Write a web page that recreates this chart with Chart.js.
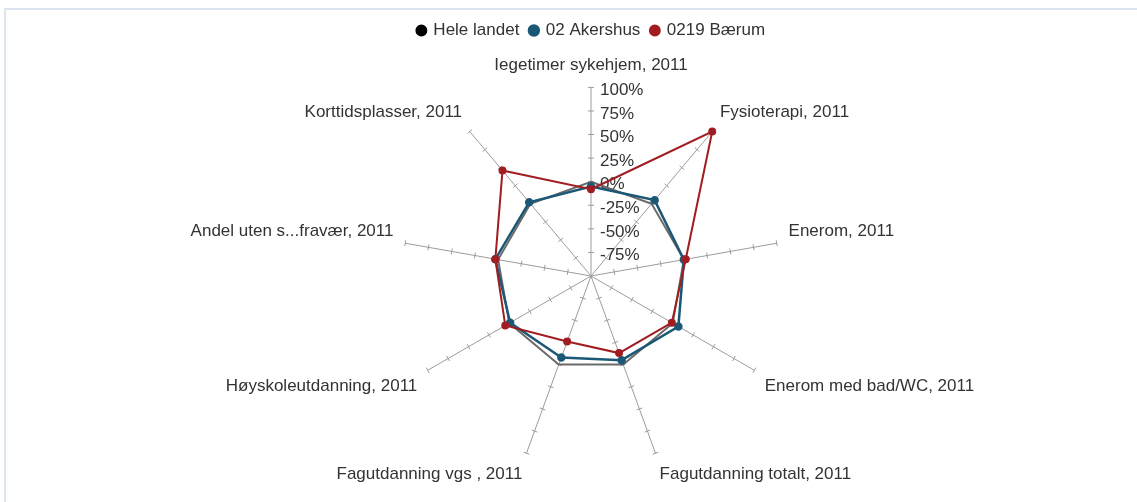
<!DOCTYPE html>
<html>
<head>
<meta charset="utf-8">
<script src="https://cdn.jsdelivr.net/npm/chart.js@4"></script>
<style>
  html, body { margin: 0; padding: 0; background: #fff; }
  .frame { position: absolute; left: 4px; top: 8px; width: 1133px; height: 494px;
           border-top: 2px solid #dce6f1; border-left: 2px solid #dce6f1; box-sizing: border-box; }
  .wrap { position: absolute; left: 0; top: 0; width: 1137px; height: 502px; }
</style>
</head>
<body>
<div class="frame"></div>
<div class="wrap"><canvas id="radar"></canvas></div>
<script>
const categories = [
  'Iegetimer sykehjem, 2011', 'Fysioterapi, 2011', 'Enerom, 2011',
  'Enerom med bad/WC, 2011', 'Fagutdanning totalt, 2011', 'Fagutdanning vgs , 2011',
  'Høyskoleutdanning, 2011', 'Andel uten s...fravær, 2011', 'Korttidsplasser, 2011'
];
const heleLandet = [0, 0, 0, 0, 0, 0, 0, 0, 0];
const akershus = [-5, 5, 0, 7, -5, -8, -1, 3, 2];
const baerum = [-8, 100, 2, -1, -13, -26, 5, 3, 46];
const tickLabels = ['-75%', '-50%', '-25%', '0%', '25%', '50%', '75%', '100%'];

const font = { family: 'Liberation Sans, Arial, sans-serif', size: 17 };

// small cross ticks on every spoke + value labels along the top spoke
const spokeTicks = {
  id: 'spokeTicks',
  beforeDatasetsDraw(chart) {
    const r = chart.scales.r;
    const ctx = chart.ctx;
    const n = categories.length;
    ctx.save();
    ctx.strokeStyle = '#9c9c9c';
    ctx.lineWidth = 1;
    for (let i = 0; i < n; i++) {
      const a = r.getIndexAngle(i) - Math.PI / 2;
      const px = -Math.sin(a), py = Math.cos(a);
      for (let v = -75; v <= 100; v += 25) {
        const p = r.getPointPositionForValue(i, v);
        ctx.beginPath();
        ctx.moveTo(p.x - px * 3, p.y - py * 3);
        ctx.lineTo(p.x + px * 3, p.y + py * 3);
        ctx.stroke();
      }
    }
    ctx.fillStyle = '#333';
    ctx.font = font.size + 'px ' + font.family;
    ctx.textAlign = 'left';
    ctx.textBaseline = 'middle';
    tickLabels.forEach(t => {
      const p = r.getPointPositionForValue(0, parseFloat(t));
      ctx.fillText(t, p.x + 9, p.y + 3);
    });
    ctx.restore();
  }
};

new Chart(document.getElementById('radar'), {
  type: 'radar',
  data: {
    labels: categories,
    datasets: [
      { label: 'Hele landet', data: heleLandet, borderColor: '#6a6a6a', backgroundColor: '#000',
        pointBackgroundColor: '#000', pointBorderColor: '#000', borderWidth: 2, pointRadius: 0, fill: false, order: 3 },
      { label: '02 Akershus', data: akershus, borderColor: '#1b5876', backgroundColor: '#1b5876',
        pointBackgroundColor: '#1b5876', pointBorderColor: '#1b5876', borderWidth: 2.5, pointRadius: 3, fill: false, order: 2 },
      { label: '0219 Bærum', data: baerum, borderColor: '#a11d22', backgroundColor: '#a11d22',
        pointBackgroundColor: '#a11d22', pointBorderColor: '#a11d22', borderWidth: 2, pointRadius: 3, fill: false, order: 1 },
    ],
  },
  options: {
    responsive: true, maintainAspectRatio: false, animation: false,
    layout: { padding: { top: 11, bottom: 10, left: 46 } },
    plugins: {
      legend: {
        position: 'top',
        labels: {
          usePointStyle: true, pointStyle: 'circle', boxWidth: 7, boxHeight: 7,
          font: { ...font }, color: '#333', padding: 11,
          sort: (a, b) => a.datasetIndex - b.datasetIndex,
        },
      },
      tooltip: { enabled: false },
    },
    scales: {
      r: {
        min: -100, max: 100,
        ticks: { stepSize: 25, display: false },
        grid: { display: false },
        angleLines: { display: true, color: '#9c9c9c', lineWidth: 1 },
        pointLabels: { font: { ...font }, color: '#333', padding: 12 },
      },
    },
  },
  plugins: [spokeTicks],
});
</script>
</body>
</html>
